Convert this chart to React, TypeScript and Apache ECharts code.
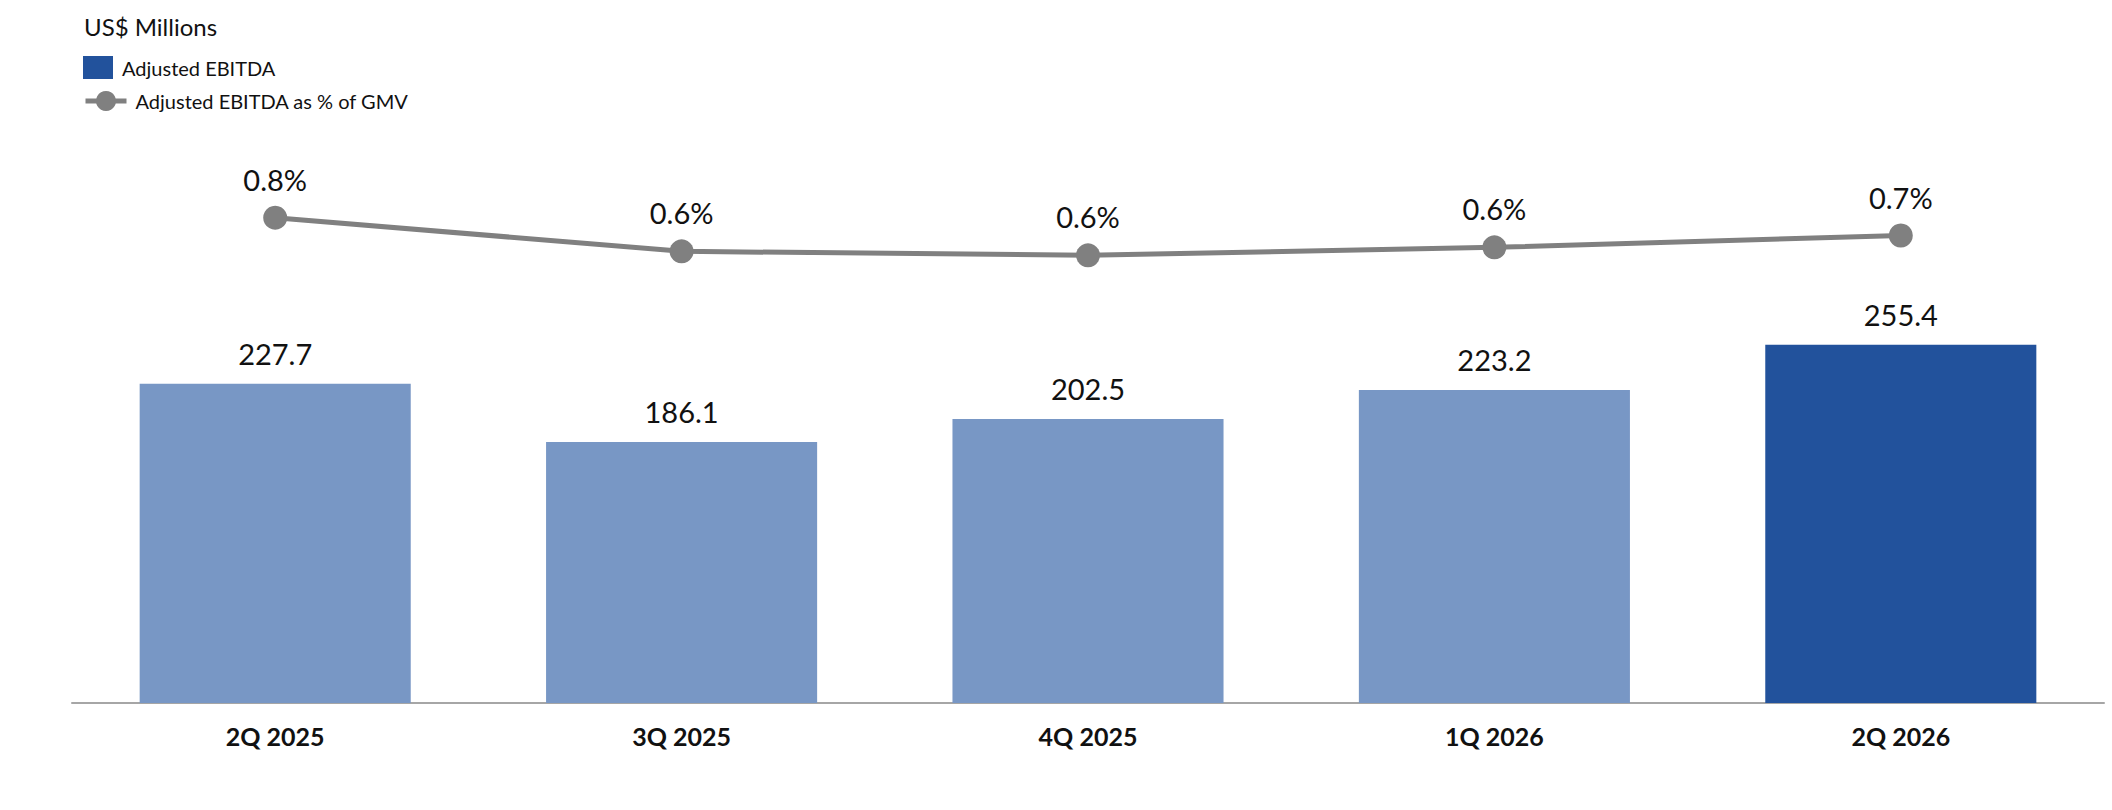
import React, { useEffect, useRef } from "react";
import * as echarts from "echarts";

const categories = ["2Q 2025", "3Q 2025", "4Q 2025", "1Q 2026", "2Q 2026"];
const ebitda = [227.7, 186.1, 202.5, 223.2, 255.4];
const ebitdaPctGmv = [0.75, 0.58, 0.56, 0.6, 0.66];
const highlightIndex = 4;

const BAR_DARK = "#22529C";
const BAR_LIGHT = "#7897C5";
const LINE_GREY = "#808080";
const FONT = "Lato, 'Open Sans', sans-serif";

export default function App() {
  const ref = useRef<HTMLDivElement>(null);

  useEffect(() => {
    if (!ref.current) return;
    const chart = echarts.init(ref.current, undefined, { renderer: "svg" });
    chart.setOption({
      animation: false,
      textStyle: { fontFamily: FONT },
      title: {
        text: "US$ Millions",
        left: 84,
        top: 14,
        padding: 0,
        textStyle: { fontSize: 24, fontWeight: "normal", color: "#111", fontFamily: FONT },
      },
      legend: [
        {
          data: ["Adjusted EBITDA"],
          icon: "rect",
          left: 83,
          top: 56,
          padding: 0,
          itemWidth: 30,
          itemHeight: 23,
          textStyle: { fontSize: 20, color: "#111", fontFamily: FONT, padding: [0, 0, 0, 4] },
        },
        {
          data: ["Adjusted EBITDA as % of GMV"],
          left: 83,
          top: 91,
          padding: 0,
          itemWidth: 41,
          itemHeight: 25,
          lineStyle: { width: 5 },
          textStyle: { fontSize: 20, color: "#111", fontFamily: FONT, padding: [0, 0, 0, 4] },
        },
      ],
      grid: { left: 72, right: 8, top: 142, bottom: 107, containLabel: false },
      xAxis: {
        type: "category",
        data: categories,
        axisTick: { show: false },
        axisLine: { lineStyle: { color: "#a6a6a6", width: 2 } },
        axisLabel: {
          fontSize: 25,
          fontWeight: "bold",
          color: "#111",
          margin: 20,
          fontFamily: FONT,
        },
      },
      yAxis: [
        { type: "value", min: 0, max: 400, show: false, splitLine: { show: false } },
        { type: "value", min: -1.7025, max: 1.1325, show: false, splitLine: { show: false } },
      ],
      series: [
        {
          name: "Adjusted EBITDA",
          type: "bar",
          yAxisIndex: 0,
          barCategoryGap: "33.3%",
          itemStyle: { color: BAR_DARK },
          data: ebitda.map((v, i) => ({
            value: v,
            itemStyle: { color: i === highlightIndex ? BAR_DARK : BAR_LIGHT },
          })),
          label: {
            show: true,
            position: "top",
            distance: 16,
            fontSize: 29,
            color: "#111",
            fontFamily: FONT,
            formatter: (p: any) => p.value.toFixed(1),
          },
        },
        {
          name: "Adjusted EBITDA as % of GMV",
          type: "line",
          yAxisIndex: 1,
          data: ebitdaPctGmv,
          symbol: "circle",
          symbolSize: 24,
          z: 5,
          lineStyle: { color: LINE_GREY, width: 5 },
          itemStyle: { color: LINE_GREY },
          label: {
            show: true,
            position: "top",
            distance: 12,
            fontSize: 29,
            color: "#111",
            fontFamily: FONT,
            formatter: (p: any) => p.value.toFixed(1) + "%",
          },
        },
      ],
    });
    return () => chart.dispose();
  }, []);

  return (
    <div
      ref={ref}
      style={{ position: "absolute", left: 0, top: 0, width: 2112, height: 810, background: "#fff" }}
    />
  );
}
